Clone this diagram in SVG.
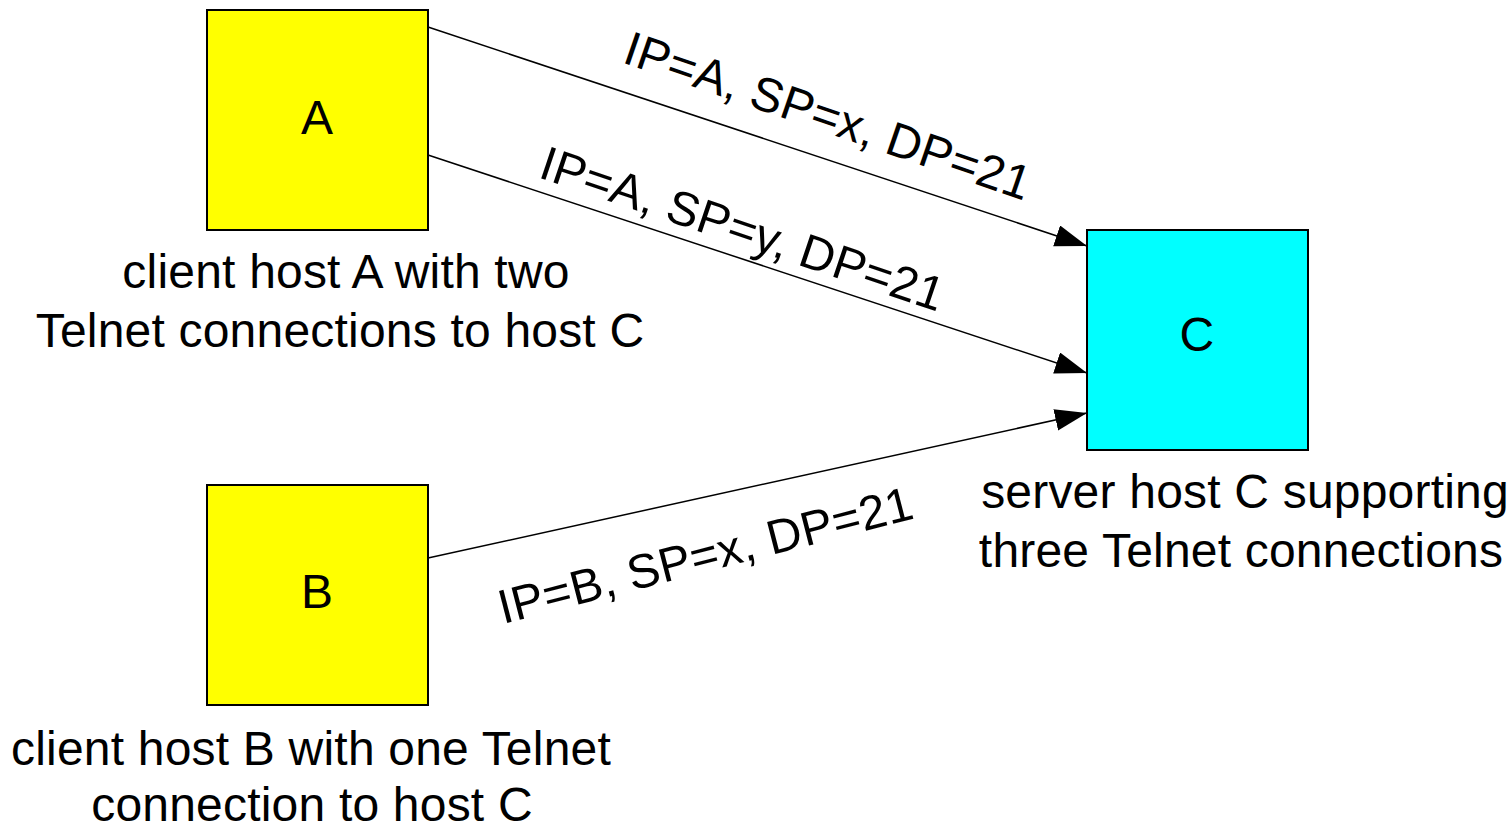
<svg xmlns="http://www.w3.org/2000/svg" width="1510" height="829" viewBox="0 0 1510 829">
<style>
  .box { stroke: #000; stroke-width: 2; }
  .a { fill: #ffff00; }
  .c { fill: #00ffff; }
  text { font-family: "Liberation Sans", Arial, sans-serif; font-size: 48px; letter-spacing: 0.2px; fill: #000; }
  .mid { text-anchor: middle; }
  .conn { stroke: #000; stroke-width: 1.5; fill: none; marker-end: url(#arr); }
</style>
<defs>
  <marker id="arr" markerUnits="userSpaceOnUse" markerWidth="34" markerHeight="24" refX="32" refY="11" orient="auto">
    <path d="M0,0 L32,11 L0,22 z" fill="#000"/>
  </marker>
</defs>
<rect width="1510" height="829" fill="#fff"/>
<g id="connectors">
  <line class="conn" x1="428" y1="27" x2="1087" y2="246"/>
  <line class="conn" x1="428" y1="155" x2="1087" y2="373"/>
  <line class="conn" x1="428" y1="558" x2="1087" y2="413"/>
  <text transform="translate(621,62) rotate(19)">IP=A, SP=x, DP=21</text>
  <text transform="translate(537,177) rotate(18.6)">IP=A, SP=y, DP=21</text>
  <text transform="translate(503,624) rotate(-14.4)">IP=B, SP=x, DP=21</text>
</g>
<g id="nodeA">
  <rect class="box a" x="207" y="10" width="221" height="220"/>
  <text class="mid" x="317" y="134">A</text>
  <text class="mid" x="346" y="288">client host A with two</text>
  <text class="mid" x="340" y="347">Telnet connections to host C</text>
</g>
<g id="nodeB">
  <rect class="box a" x="207" y="485" width="221" height="220"/>
  <text class="mid" x="317" y="608">B</text>
  <text class="mid" x="311" y="765">client host B with one Telnet</text>
  <text class="mid" x="312" y="821">connection to host C</text>
</g>
<g id="nodeC">
  <rect class="box c" x="1087" y="230" width="221" height="220"/>
  <text class="mid" x="1197" y="351">C</text>
  <text class="mid" x="1245" y="508">server host C supporting</text>
  <text class="mid" x="1241" y="567">three Telnet connections</text>
</g>
</svg>
